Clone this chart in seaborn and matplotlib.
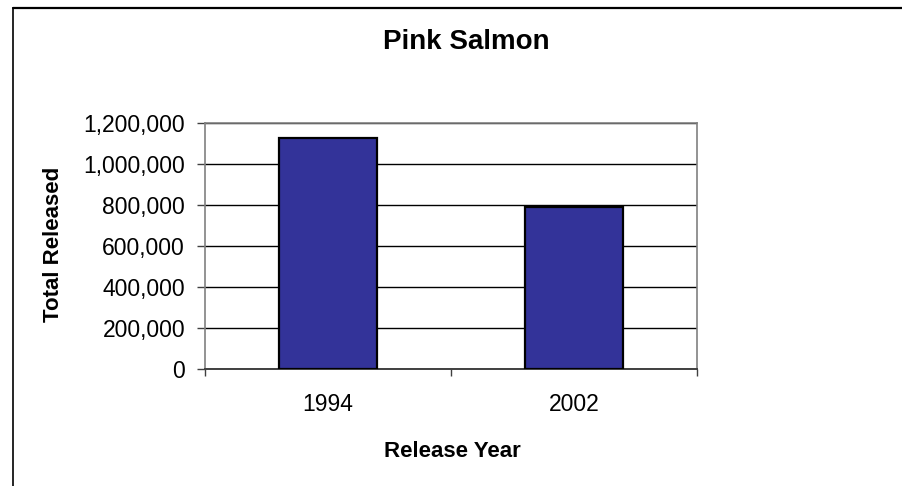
import matplotlib
matplotlib.use("Agg")
import matplotlib.pyplot as plt
import matplotlib.ticker as mticker
from matplotlib.lines import Line2D
import seaborn as sns
import pandas as pd

# ---- data ----
years = ["1994", "2002"]
released = [1128000, 793000]
y_ticks = [0, 200000, 400000, 600000, 800000, 1000000, 1200000]

title = "Pink Salmon"
x_label = "Release Year"
y_label = "Total Released"

sns.set_theme(style="white")
plt.rcParams["font.family"] = ["Liberation Sans", "DejaVu Sans"]

W, H = 902, 486
fig = plt.figure(figsize=(W / 100, H / 100), dpi=100)
fig.patch.set_facecolor("white")

# axes placement (pixels -> figure fraction)
ax_l, ax_r, ax_t, ax_b = 205, 697, 123, 369.3
ax = fig.add_axes([ax_l / W, 1 - ax_b / H, (ax_r - ax_l) / W, (ax_b - ax_t) / H])

df = pd.DataFrame({"year": years, "released": released})
sns.barplot(data=df, x="year", y="released", color="#333399", width=0.4,
            edgecolor="black", linewidth=1.6, saturation=1, ax=ax, zorder=3)

ax.set_xlim(-0.5, 1.5)
ax.set_ylim(0, 1200000)
ax.set_yticks(y_ticks)
ax.yaxis.set_major_formatter(mticker.FuncFormatter(lambda v, p: f"{int(v):,}"))
ax.yaxis.grid(True, color="black", linewidth=1.0, zorder=1)
ax.xaxis.grid(False)
ax.set_axisbelow(True)

for s in ["top", "right", "left"]:
    ax.spines[s].set_visible(True)
    ax.spines[s].set_color("#808080")
    ax.spines[s].set_linewidth(1.2)
ax.spines["bottom"].set_color("#404040")
ax.spines["bottom"].set_linewidth(1.4)

ax.tick_params(axis="y", which="major", direction="out", length=5.8, width=1.0,
               color="#404040", pad=8.6, labelsize=16.5, left=True)
ax.tick_params(axis="x", which="major", length=0, pad=17, labelsize=16.5, bottom=True)
ax.set_xticks([-0.5, 0.5, 1.5], minor=True)
ax.tick_params(axis="x", which="minor", direction="out", length=5, width=1.0,
               color="#404040", bottom=True)
for lab in ax.get_xticklabels() + ax.get_yticklabels():
    lab.set_color("black")

ax.set_xlabel("")
ax.set_ylabel("")

fig.text(466 / W, 1 - 49 / H, title, ha="center", va="baseline",
         fontsize=20, fontweight="bold", color="black")
fig.text(452 / W, 1 - 457 / H, x_label, ha="center", va="baseline",
         fontsize=16, fontweight="bold", color="black")
fig.text(53.5 / W, 1 - 244.5 / H, y_label, ha="center", va="center",
         rotation=90, fontsize=16, fontweight="bold", color="black")

# outer chart border (top and left visible)
fig.add_artist(Line2D([13 / W, 1.0], [1 - 8.5 / H, 1 - 8.5 / H],
                      transform=fig.transFigure, color="black", linewidth=1.6))
fig.add_artist(Line2D([13 / W, 13 / W], [1 - 8.5 / H, 0.0],
                      transform=fig.transFigure, color="black", linewidth=1.2))

fig.savefig("out.png", dpi=100, facecolor="white")
